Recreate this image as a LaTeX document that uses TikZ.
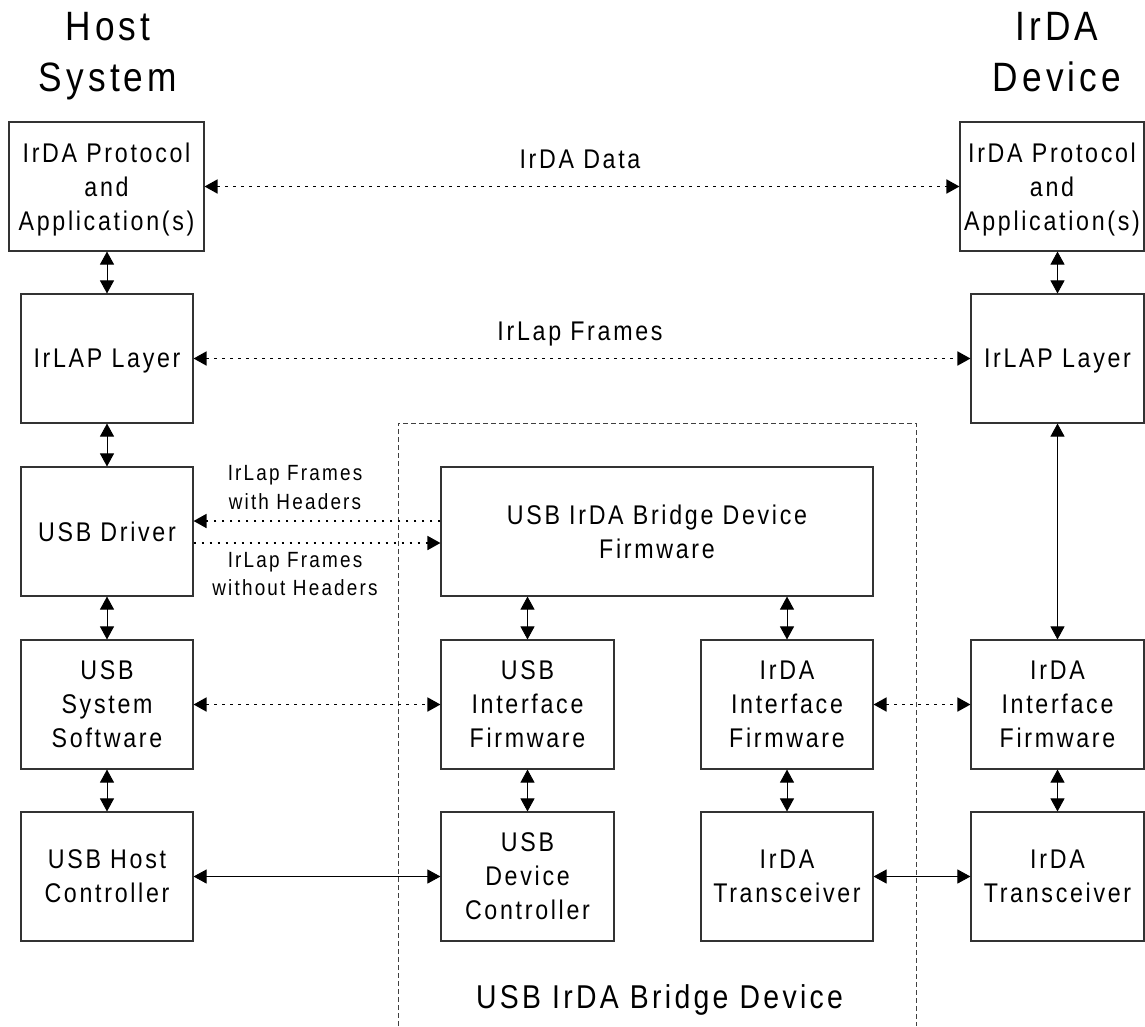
\documentclass[tikz,border=0pt]{standalone}
\usepackage{fontspec}
\setmainfont{Liberation Sans}[LetterSpace=10,FakeStretch=0.86]
\usetikzlibrary{arrows.meta}
\begin{document}
\begin{tikzpicture}[x=1pt,y=-1pt,
  box/.style={draw=black!80, line width=1.1pt, minimum height=129pt, inner sep=0pt,
    align=center, font=\fontsize{27}{34}\selectfont, text depth=0pt},
  tip/.tip={Triangle[length=13pt,width=14pt]},
  solidarr/.style={tip-tip, line width=0.9pt, black},
  dotarr/.style={line width=1.7pt, black, dash pattern=on 2.5pt off 5.5pt},
  lbl/.style={inner sep=0pt, align=center, font=\fontsize{27}{34}\selectfont, text depth=0pt},
  smalllbl/.style={inner sep=0pt, align=center, font=\fontsize{22}{28.3}\selectfont, text depth=0pt},
  headlbl/.style={inner sep=0pt, align=center, font=\fontsize{41}{51}\selectfont, text depth=0pt},
  biglbl/.style={inner sep=0pt, align=center, font=\fontsize{33}{40}\selectfont, text depth=0pt},
  bridgeframe/.style={draw=black!75, line width=1pt, dash pattern=on 5pt off 3pt}]
\useasboundingbox (0,0) rectangle (1145,1026);

% dashed frame of the bridge device (open at bottom)
\draw[bridgeframe] (398,1026) -- (398,423) -- (916,423) -- (916,1026);

% headers
\node[headlbl] (thost) at (108,52) {Host\\System};
\node[headlbl] (tdev) at (1057,52) {IrDA\\Device};

% left column
\node[box, minimum width=195pt] (lproto) at (106.5,186.5) {IrDA Protocol\\and\\Application(s)};
\node[box, minimum width=172pt] (lirlap) at (107,358.5) {IrLAP Layer};
\node[box, minimum width=172pt] (ldrv) at (107,531.5) {USB Driver};
\node[box, minimum width=172pt] (lsys) at (107,704.5) {USB\\System\\Software};
\node[box, minimum width=172pt] (lhc) at (107,876.5) {USB Host\\Controller};

% middle
\node[box, minimum width=432pt] (bridge) at (657,531.5) {USB IrDA Bridge Device\\Firmware};
\node[box, minimum width=173pt] (usbif) at (527.5,704.5) {USB\\Interface\\Firmware};
\node[box, minimum width=172pt] (irdaif) at (787,704.5) {IrDA\\Interface\\Firmware};
\node[box, minimum width=173pt] (usbdc) at (527.5,876.5) {USB\\Device\\Controller};
\node[box, minimum width=172pt] (irtr) at (787,876.5) {IrDA\\Transceiver};

% right column
\node[box, minimum width=184pt] (rproto) at (1052,186.5) {IrDA Protocol\\and\\Application(s)};
\node[box, minimum width=173pt] (rirlap) at (1057.5,358.5) {IrLAP Layer};
\node[box, minimum width=173pt] (rif) at (1057.5,704.5) {IrDA\\Interface\\Firmware};
\node[box, minimum width=173pt] (rtr) at (1057.5,876.5) {IrDA\\Transceiver};

% labels
\node[lbl] (tdata) at (580,159) {IrDA Data};
\node[lbl] (tframes) at (580,331.7) {IrLap Frames};
\node[smalllbl] (twith) at (295,487.5) {IrLap Frames\\with Headers};
\node[smalllbl] (twithout) at (295,574) {IrLap Frames\\without Headers};
\node[biglbl] (tbridge) at (659.5,997) {USB IrDA Bridge Device};

% vertical solid arrows
\draw[solidarr] (lproto.south -| lirlap.north) -- (lirlap.north);
\draw[solidarr] (lirlap.south) -- (ldrv.north);
\draw[solidarr] (ldrv.south) -- (lsys.north);
\draw[solidarr] (lsys.south) -- (lhc.north);
\draw[solidarr] (bridge.south -| usbif.north) -- (usbif.north);
\draw[solidarr] (bridge.south -| irdaif.north) -- (irdaif.north);
\draw[solidarr] (usbif.south) -- (usbdc.north);
\draw[solidarr] (irdaif.south) -- (irtr.north);
\draw[solidarr] (rproto.south -| rirlap.north) -- (rirlap.north);
\draw[solidarr] (rirlap.south) -- (rif.north);
\draw[solidarr] (rif.south) -- (rtr.north);

% horizontal solid arrows
\draw[solidarr] (lhc.east) -- (usbdc.west);
\draw[solidarr] (irtr.east) -- (rtr.west);

% dotted arrows
\draw[dotarr, tip-tip] (lproto.east) -- (rproto.west);
\draw[dotarr, tip-tip] (lirlap.east) -- (rirlap.west);
\draw[dotarr, tip-tip] (lsys.east) -- (usbif.west);
\draw[dotarr, tip-tip] (irdaif.east) -- (rif.west);
\draw[dotarr, -tip] (bridge.west |- 0,521) -- (ldrv.east |- 0,521);
\draw[dotarr, -tip] (ldrv.east |- 0,543) -- (bridge.west |- 0,543);
\end{tikzpicture}
\end{document}
